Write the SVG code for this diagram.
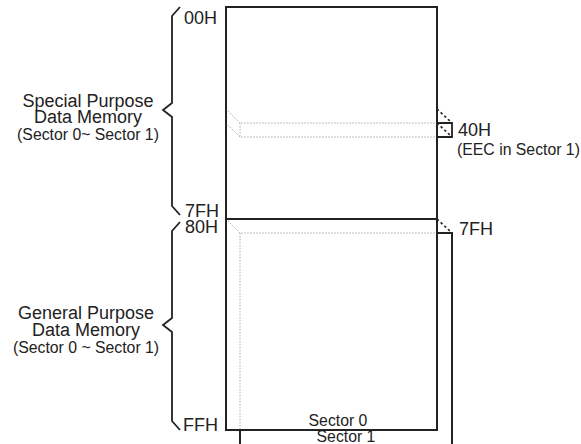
<svg xmlns="http://www.w3.org/2000/svg" width="581" height="444" viewBox="0 0 581 444">
<style>
text{font-family:"Liberation Sans",Arial,sans-serif;fill:#222}
.lg{font-size:18px}
.sm{font-size:15.8px}
.mid{text-anchor:middle}
.solid{fill:none;stroke:#222;stroke-width:2}
.thin{fill:none;stroke:#222;stroke-width:1.8}
.dot{fill:none;stroke:#aaa;stroke-width:1;stroke-dasharray:1.5,1.5}
.dash{fill:none;stroke:#222;stroke-width:1.6;stroke-dasharray:2.5,2.5}
.brace{fill:none;stroke:#222;stroke-width:1.8;stroke-linejoin:miter}
</style>
<rect width="581" height="444" fill="#fff"/>
<g id="connectors">
<path class="dot" d="M226,109 L240,123 L437,123 M226,123 L240,137 L437,137 M240,123 L240,137"/>
<path class="dot" d="M226,219 L240,233 L437,233 M240,233 L240,430"/>
<path class="dash" d="M437,109 L452,123 M437,123 L452,137 M437,219 L452,233"/>
</g>
<g id="sector1">
<path class="solid" d="M437,233 L452,233 L452,444 M240,430 L240,444"/>
<text class="sm mid" x="346" y="442">Sector 1</text>
</g>
<g id="eec-cell">
<path class="thin" d="M437,123 L452,123 L452,137 L437,137"/>
</g>
<g id="sector0">
<rect class="solid" x="226" y="7" width="211" height="423"/>
<line class="solid" x1="226" y1="219" x2="437" y2="219"/>
<text class="sm mid" x="338" y="426">Sector 0</text>
</g>
<g id="special-brace">
<path class="brace" d="M180,7 L172,16 L172,103 L163,110 L172,117 L172,206 L180,215"/>
<text class="lg mid" x="88" y="107">Special Purpose</text>
<text class="lg mid" x="88" y="123">Data Memory</text>
<text class="sm mid" x="88" y="140">(Sector 0~ Sector 1)</text>
</g>
<g id="general-brace">
<path class="brace" d="M180,222 L172,231 L172,318 L163,325 L172,332 L172,421 L180,430"/>
<text class="lg mid" x="86" y="319">General Purpose</text>
<text class="lg mid" x="86" y="336">Data Memory</text>
<text class="sm mid" x="86" y="353">(Sector 0 ~ Sector 1)</text>
</g>
<g id="addresses">
<text class="lg" x="184" y="24">00H</text>
<text class="lg" x="185" y="217">7FH</text>
<text class="lg" x="185" y="233">80H</text>
<text class="lg" x="183" y="431">FFH</text>
<text class="lg" x="458" y="136">40H</text>
<text class="sm" x="457" y="155">(EEC in Sector 1)</text>
<text class="lg" x="459" y="235">7FH</text>
</g>
</svg>
